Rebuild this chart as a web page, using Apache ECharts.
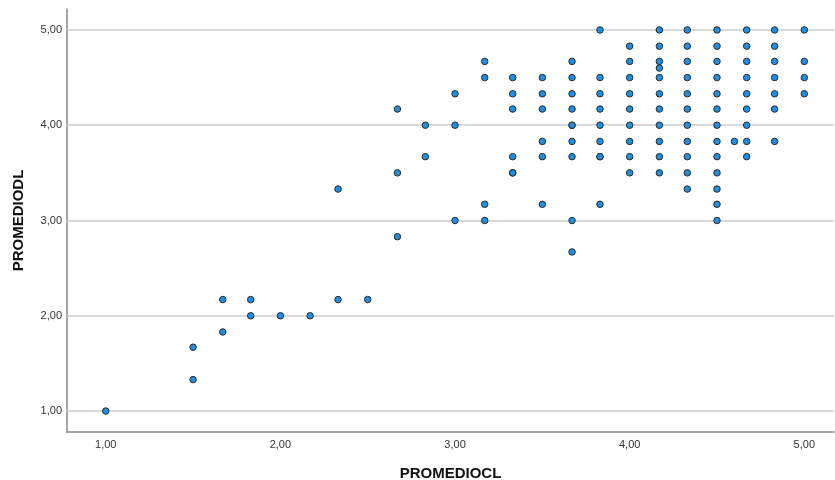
<!DOCTYPE html>
<html>
<head>
<meta charset="utf-8">
<script src="https://cdn.jsdelivr.net/npm/echarts@6/dist/echarts.min.js"></script>
<style>html,body{margin:0;padding:0;background:#fff}#c{width:835px;height:480px}</style>
</head>
<body>
<div id="c"></div>
<script>
var promedioCL = [
  1.00, 1.50, 1.50, 1.67, 1.67, 1.83, 1.83, 2.00, 2.17, 2.33, 2.50,
  2.33, 2.67, 2.67, 2.67, 2.83, 2.83,
  3.00, 3.00, 3.00,
  3.17, 3.17, 3.17, 3.17,
  3.33, 3.33, 3.33, 3.33, 3.33, 3.33,
  3.50, 3.50, 3.50, 3.50, 3.50, 3.50,
  3.67, 3.67, 3.67, 3.67, 3.67, 3.67, 3.67, 3.67, 3.67, 3.67,
  3.83, 3.83, 3.83, 3.83, 3.83, 3.83, 3.83, 3.83, 3.83,
  4.00, 4.00, 4.00, 4.00, 4.00, 4.00, 4.00, 4.00, 4.00,
  4.17, 4.17, 4.17, 4.17, 4.17, 4.17, 4.17, 4.17, 4.17, 4.17, 4.17,
  4.33, 4.33, 4.33, 4.33, 4.33, 4.33, 4.33, 4.33, 4.33, 4.33, 4.33,
  4.50, 4.50, 4.50, 4.50, 4.50, 4.50, 4.50, 4.50, 4.50, 4.50, 4.50, 4.50, 4.50,
  4.60,
  4.67, 4.67, 4.67, 4.67, 4.67, 4.67, 4.67, 4.67, 4.67,
  4.83, 4.83, 4.83, 4.83, 4.83, 4.83, 4.83,
  5.00, 5.00, 5.00, 5.00
];
var promedioDL = [
  1.00, 1.33, 1.67, 1.83, 2.17, 2.00, 2.17, 2.00, 2.00, 2.17, 2.17,
  3.33, 2.83, 3.50, 4.17, 3.67, 4.00,
  3.00, 4.00, 4.33,
  3.00, 3.17, 4.50, 4.67,
  3.50, 3.67, 4.17, 4.33, 4.50, 3.50,
  3.17, 3.67, 3.83, 4.17, 4.33, 4.50,
  2.67, 3.00, 3.67, 3.83, 4.00, 4.17, 4.33, 4.50, 4.67, 4.00,
  3.17, 3.67, 3.83, 4.00, 4.17, 4.33, 4.50, 5.00, 3.67,
  3.50, 3.67, 3.83, 4.00, 4.17, 4.33, 4.50, 4.67, 4.83,
  3.50, 3.67, 3.83, 4.00, 4.17, 4.33, 4.50, 4.60, 4.67, 4.83, 5.00,
  3.33, 3.50, 3.67, 3.83, 4.00, 4.17, 4.33, 4.50, 4.67, 4.83, 5.00,
  3.00, 3.17, 3.33, 3.50, 3.67, 3.83, 4.00, 4.17, 4.33, 4.50, 4.67, 4.83, 5.00,
  3.83,
  3.67, 3.83, 4.00, 4.17, 4.33, 4.50, 4.67, 4.83, 5.00,
  3.83, 4.17, 4.33, 4.50, 4.67, 4.83, 5.00,
  4.33, 4.50, 4.67, 5.00
];
var tickValues = [1, 2, 3, 4, 5];
var xTitle = 'PROMEDIOCL';
var yTitle = 'PROMEDIODL';

var points = [];
for (var i = 0; i < promedioCL.length; i++) points.push([promedioCL[i], promedioDL[i]]);

function fmt(v) { return v.toFixed(2).replace('.', ','); }

var chart = echarts.init(document.getElementById('c'), null, { renderer: 'canvas' });
chart.setOption({
  animation: false,
  backgroundColor: '#ffffff',
  grid: { left: 67, right: 1, top: 9, bottom: 48, outerBoundsMode: 'none', containLabel: false },
  xAxis: {
    type: 'value', min: 0.778, max: 5.17,
    name: xTitle, nameLocation: 'middle', nameGap: 34,
    nameTextStyle: { fontFamily: 'Liberation Sans', fontWeight: 'bold', fontSize: 15, color: '#111' },
    axisLine: { show: true, onZero: false, lineStyle: { color: '#888', width: 1.5 } },
    axisTick: { show: false, customValues: tickValues },
    axisLabel: { customValues: tickValues, formatter: fmt, fontFamily: 'Liberation Sans', fontSize: 11, color: '#333', margin: 7 },
    splitLine: { show: false }
  },
  yAxis: {
    type: 'value', min: 0.78, max: 5.22,
    name: yTitle, nameLocation: 'middle', nameGap: 41, nameRotate: 90,
    nameTextStyle: { fontFamily: 'Liberation Sans', fontWeight: 'bold', fontSize: 15, color: '#111' },
    axisLine: { show: true, onZero: false, lineStyle: { color: '#888', width: 1.5 } },
    axisTick: { show: false, customValues: tickValues },
    axisLabel: { customValues: tickValues, formatter: fmt, fontFamily: 'Liberation Sans', fontSize: 11, color: '#333', margin: 5 },
    splitLine: { show: false }
  },
  series: [{
    type: 'scatter',
    data: points,
    symbolSize: 6.5,
    itemStyle: { color: '#1f8fe3', borderColor: '#2a2a2a', borderWidth: 1, opacity: 1 },
    markLine: {
      silent: true, symbol: 'none', label: { show: false },
      lineStyle: { color: '#cccccc', width: 1.5, type: 'solid' },
      z: 1,
      data: tickValues.map(function (v) { return { yAxis: v }; })
    },
    z: 3
  }]
});
</script>
</body>
</html>
